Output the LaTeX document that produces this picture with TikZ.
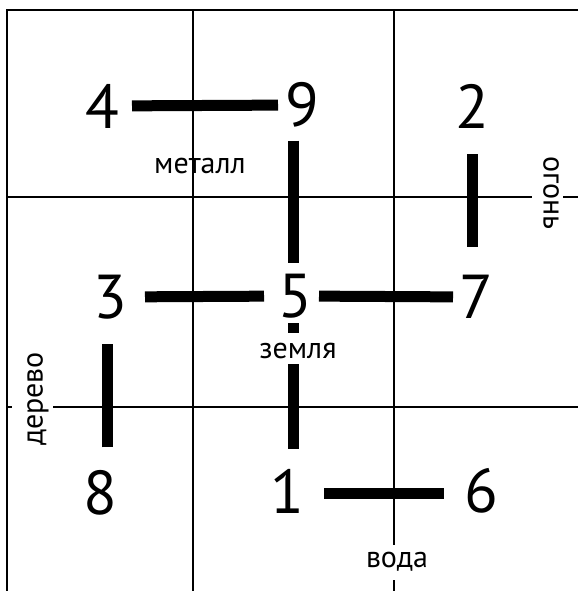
\documentclass[tikz,border=0pt]{standalone}
\usepackage{fontspec}
\setmainfont{PT Sans}
\begin{document}
\begin{tikzpicture}[x=1pt,y=-1pt,
  digit/.style={inner sep=0pt,font=\fontsize{62}{62}\selectfont},
  lbl/.style={inner sep=0pt,font=\fontsize{30}{30}\selectfont},
  grid/.style={line width=1.3pt},
  frame/.style={line width=2pt},
  bar/.style={line width=11pt,line cap=butt}]
\useasboundingbox (0,0) rectangle (578,591);
% frame and grid
\draw[frame] (578,10) -- (7,10) -- (7,591);
\draw[grid] (193,10) -- (193,591);
\draw[grid] (394,10) -- (394,545);
\draw[grid] (394,580) -- (394,591);
\draw[grid] (7,197) -- (532,197);
\draw[grid] (563,197) -- (578,197);
\draw[grid] (7,407) -- (12,407);
\draw[grid] (53,407) -- (578,407);
% digits
\node[digit] (n4) at (102,106) {4};
\node[digit] (n9) at (302,105) {9};
\node[digit] (n2) at (472,106) {2};
\node[digit] (n3) at (110,297) {3};
\node[digit] (n5) at (295,296) {5};
\node[digit] (n7) at (476,297) {7};
\node[digit] (n8) at (100,493) {8};
\node[digit] (n1) at (287,491) {1};
\node[digit] (n6) at (481,491) {6};
% labels
\node[lbl] (metal) at (200,166) {металл};
\node[lbl] (earth) at (298,351) {земля};
\node[lbl] (water) at (397,562) {вода};
\node[lbl,rotate=-90] (fire) at (551,193) {огонь};
\node[lbl,rotate=90] (wood) at (38,399) {дерево};
% bars
\draw[bar,shorten <=30pt,shorten >=24pt] (n4.center) -- (n9.center);
\draw[bar,shorten <=35pt,shorten >=31pt] (n3.center) -- (n5.center);
\draw[bar,shorten <=24pt,shorten >=23pt] (n5.center) -- (n7.center);
\draw[bar,shorten <=37pt,shorten >=37pt] ([yshift=-2pt]n1.center) -- ([yshift=-2pt]n6.center);
\draw[bar,shorten <=13pt,shorten >=11pt] ([xshift=-2pt]n5.center |- n9.south) -- ([xshift=-2pt]n5.north);
\draw[bar,shorten <=5pt,shorten >=10pt] ([xshift=-2pt]n5.south) -- ([xshift=-2pt]n5.center |- earth.north);
\draw[bar,shorten <=5pt,shorten >=20pt] ([xshift=-2pt]n5.center |- earth.south) -- ([xshift=-2pt]n5.center |- n1.north);
\draw[bar] (n2.south) ++(0,26) -- ++(0,93);
\draw[bar] ([xshift=7pt]n8.north) ++(0,-23) -- ++(0,-103);
\end{tikzpicture}
\end{document}
